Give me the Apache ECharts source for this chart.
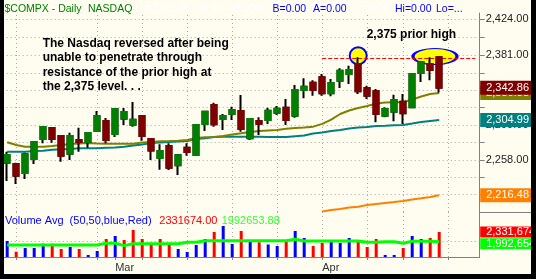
<!DOCTYPE html>
<html><head><meta charset="utf-8">
<script src="https://cdn.jsdelivr.net/npm/echarts@6/dist/echarts.min.js"></script>
<style>
html,body{margin:0;padding:0;background:#000;}
#wrap{position:relative;width:536px;height:279px;overflow:hidden;background:#000;}
#chart{position:absolute;left:0;top:0;width:536px;height:279px;background:#FFFCF0;}
.blk{position:absolute;background:#000;}
</style></head><body>
<div id="wrap">
<div id="chart"></div>
<div class="blk" style="left:0;top:0;width:4px;height:279px"></div>
<div class="blk" style="left:531px;top:0;width:5px;height:279px"></div>
<div class="blk" style="left:0;top:274px;width:536px;height:5px"></div>
</div>
<script>
// ---- data ----
const dates = ['2006-02-10','2006-02-13','2006-02-14','2006-02-15','2006-02-16','2006-02-17','2006-02-21','2006-02-22','2006-02-23','2006-02-24','2006-02-27','2006-02-28',
'2006-03-01','2006-03-02','2006-03-03','2006-03-06','2006-03-07','2006-03-08','2006-03-09','2006-03-10','2006-03-13','2006-03-14','2006-03-15','2006-03-16','2006-03-17','2006-03-20','2006-03-21','2006-03-22','2006-03-23','2006-03-24','2006-03-27','2006-03-28','2006-03-29','2006-03-30','2006-03-31',
'2006-04-03','2006-04-04','2006-04-05','2006-04-06','2006-04-07','2006-04-10','2006-04-11','2006-04-12','2006-04-13','2006-04-17','2006-04-18','2006-04-19','2006-04-20','2006-04-21','2006-04-24','2006-04-25','2006-04-26','2006-04-27'];
const opens  = [2254.8,2253.3,2242.7,2259.1,2282.7,2295.6,2286.2,2265.4,2281.5,2279.2,2292.1,2303.9,2288.6,2306.6,2299.5,2309.8,2282.7,2260.3,2274.4,2251.7,2272.4,2263.8,2300.3,2322.7,2306.2,2312.1,2315.6,2283.5,2303.9,2305.0,2313.6,2319.5,2310.1,2340.4,2349.0,2355.3,2336.5,2351.3,2359.2,2371.0,2342.7,2338.8,2310.1,2314.8,2326.6,2320.0,2360.4,2371.0,2379.0];
const closes = [2263.8,2239.5,2264.7,2279.1,2296.8,2282.7,2263.0,2286.2,2279.2,2289.7,2309.8,2281.5,2318.0,2314.5,2305.4,2286.2,2269.0,2268.5,2248.9,2263.5,2267.4,2299.2,2314.8,2300.0,2309.8,2316.8,2294.5,2306.2,2300.7,2316.0,2318.4,2305.0,2340.4,2344.3,2340.4,2336.5,2348.6,2363.1,2363.9,2338.8,2333.7,2312.1,2318.0,2328.6,2312.9,2359.2,2373.0,2363.9,2342.86];
const lows   = [2233.2,2229.7,2235.6,2253.3,2277.6,2278.3,2256.0,2258.0,2267.7,2272.4,2291.0,2277.6,2285.0,2299.2,2297.2,2280.7,2258.0,2246.5,2246.2,2240.3,2263.0,2262.7,2292.1,2297.2,2293.3,2305.0,2291.3,2281.5,2287.4,2300.3,2310.9,2299.2,2307.8,2330.6,2333.7,2333.7,2332.9,2342.7,2347.4,2335.7,2329.8,2302.3,2308.2,2303.5,2300.3,2318.8,2349.9,2351.7,2337.5];
const highs  = [2267.7,2254.8,2266.6,2280.0,2297.5,2296.5,2287.0,2290.1,2296.0,2290.5,2315.6,2307.4,2319.0,2319.2,2326.2,2310.5,2283.5,2276.4,2277.6,2265.0,2277.6,2300.0,2316.0,2325.4,2312.1,2320.7,2334.5,2307.0,2308.2,2319.5,2321.5,2329.8,2346.3,2354.1,2351.7,2359.2,2353.3,2365.9,2369.0,2378.9,2345.4,2341.5,2320.0,2334.8,2335.7,2360.0,2374.5,2378.9,2380.0];
const ma20  = [2278.8,2275.6,2273.6,2273.6,2273.6,2274.4,2275.6,2276.8,2277.4,2278.0,2277.4,2277.1,2277.1,2277.1,2277.1,2278.6,2279.2,2280.0,2280.3,2280.7,2281.5,2283.9,2284.7,2285.0,2286.2,2288.0,2289.4,2290.9,2292.1,2292.7,2293.3,2294.8,2295.6,2296.2,2297.2,2300.5,2305.5,2312.1,2316.2,2319.2,2321.5,2324.5,2325.7,2325.9,2325.9,2329.2,2332.7,2335.7,2336.88];
const ma50  = [2267.7,2267.7,2267.7,2268.6,2268.9,2270.0,2270.6,2270.9,2271.7,2271.7,2271.7,2272.4,2272.7,2273.6,2275.0,2276.2,2278.0,2278.6,2279.2,2279.7,2280.3,2282.7,2283.5,2285.0,2285.4,2285.4,2285.4,2285.4,2285.4,2285.0,2285.0,2285.0,2285.9,2286.8,2289.2,2290.3,2292.1,2293.3,2295.0,2296.2,2296.8,2298.0,2298.3,2298.8,2299.2,2300.9,2302.7,2303.9,2304.99];
const ma200 = [null,null,null,null,null,null,null,null,null,null,null,null,null,null,null,null,null,null,null,null,null,null,null,null,null,null,null,null,null,null,null,null,null,null,null,
               2197.3,2199.1,2200.3,2202.0,2203.0,2205.0,2206.2,2207.4,2208.5,2209.7,2211.5,2212.9,2214.4,2216.48];
const volumes = [2018000,1643000,1773000,1773000,1923000,1923000,1738000,1808000,1738000,1528000,1668000,2087000,2192000,2052000,2402000,2087000,1878000,2087000,1948000,1738000,1633000,1878000,2087000,2332000,2542000,1913000,2367000,2052000,1972000,1896000,1843000,1982000,2367000,2122000,1843000,1948000,2018000,1948000,2122000,1993000,1808000,2087000,1528000,1528000,1773000,2192000,2087000,2122000,2331674];
const volAvg = [1878000,1878000,1878000,1878000,1878000,1878000,1878000,1878000,1878000,1878000,1878000,1937000,1937000,1855000,1923000,1923000,1923000,1923000,1923000,1923000,1972000,1972000,2028000,2028000,2028000,2028000,2028000,2028000,2028000,2028000,2028000,2028000,2077000,2018000,2018000,2018000,2018000,2018000,2018000,2018000,1972000,1972000,1993000,1993000,1937000,2007000,2007000,2007000,1992653.88];
const priceTicks  = [2424,2402.5,2381,2360.5,2340,2319.5,2299,2278.5,2258,2238,2218];
const priceLabels = [2424,2381,2340,2299,2258,2218];
const volGrid = [2000000];
const priorHigh = 2377.5;
const highlights = [{day:39, price:2380.7}, {day:47, price:2379.8}];
const noteLines = ['The Nasdaq reversed after being','unable to penetrate through','resistance of the prior high at','the 2,375 level. . .'];
const noteHigh = '2,375 prior high';
const MON = ['Jan','Feb','Mar','Apr','May','Jun','Jul','Aug','Sep','Oct','Nov','Dec'];

// ---- derived ----
const FONT = '"Liberation Sans", Arial, sans-serif';
const n = closes.length, last = n - 1;
const fmt2 = v => Number(v).toLocaleString('en-US',{minimumFractionDigits:2,maximumFractionDigits:2});
const fmtInt = v => Math.round(v).toLocaleString('en-US');
const mondays = []; const monthStarts = [];
dates.forEach((d,i)=>{
  if (new Date(d+'T00:00:00Z').getUTCDay()===1) mondays.push(i);
  if (i>0 && d.slice(5,7)!==dates[i-1].slice(5,7)) monthStarts.push(i);
});
const tickSet = new Set(mondays.concat(monthStarts));
const monthSet = new Set(monthStarts);
const volUp = closes.map((c,i)=> i===0 ? c>=opens[i] : c>=closes[i-1]);
const wickData = opens.map((o,i)=>[o, closes[i], lows[i], highs[i]]);
const bodyData = opens.map((o,i)=>[o, closes[i], Math.min(o,closes[i]), Math.max(o,closes[i])]);

const GL = 2.7, GW = 477;
const PMIN = 2196.7, PMAX = 2431, VMIN = 1458000, VMAX = 3031000;
const gridLine = {color:'#A6A6A6', type:[1,3], width:1};
const boxLabel = (txt,bg)=>({formatter: txt, backgroundColor: bg});
const TF = '10.5px '+FONT;

const chart = echarts.init(document.getElementById('chart'), null, {renderer:'canvas'});
const option = {
  animation:false,
  backgroundColor:'transparent',
  textStyle:{fontFamily:FONT},
  grid:[
    {left:GL, top:13, width:GW, height:199, outerBoundsMode:'none', containLabel:false},
    {left:GL, top:212, width:GW, height:45, outerBoundsMode:'none', containLabel:false}
  ],
  xAxis:[
    {type:'category', gridIndex:0, data:dates, boundaryGap:true,
     axisLine:{show:false}, axisTick:{show:false}, axisLabel:{show:false}, splitLine:{show:false}},
    {type:'category', gridIndex:1, data:dates, boundaryGap:true,
     axisLine:{show:true, onZero:false, lineStyle:{color:'#808080'}},
     axisTick:{show:true, alignWithLabel:true, length:3, interval:(i)=>tickSet.has(i), lineStyle:{color:'#808080'}},
     axisLabel:{show:true, interval:(i)=>monthSet.has(i), formatter:(v)=>MON[parseInt(v.slice(5,7),10)-1],
       align:'left', margin:5, color:'#333', fontSize:11, fontFamily:FONT},
     splitLine:{show:false}}
  ],
  yAxis:[
    {type:'value', gridIndex:0, position:'right', min:PMIN, max:PMAX,
     axisLine:{show:true, lineStyle:{color:'#808080'}},
     axisTick:{show:true, length:5, customValues:priceTicks, lineStyle:{color:'#808080'}},
     axisLabel:{show:true, customValues:priceLabels, formatter:(v)=>fmt2(v), margin:6, color:'#222', fontSize:11, fontFamily:FONT},
     splitLine:{show:false}},
    {type:'value', gridIndex:1, position:'right', min:VMIN, max:VMAX,
     axisLine:{show:true, lineStyle:{color:'#808080'}}, axisTick:{show:false}, axisLabel:{show:false}, splitLine:{show:false}}
  ],
  series:[
    {type:'line', xAxisIndex:0, yAxisIndex:0, data:[], silent:true,
     markLine:{z:1, silent:true, symbol:['none','none'], label:{show:false}, lineStyle:gridLine,
       data:[...priceTicks.map(v=>({yAxis:v})), ...mondays.map(i=>({xAxis:dates[i]}))]}},
    {type:'line', xAxisIndex:1, yAxisIndex:1, data:[], silent:true,
     markLine:{z:1, silent:true, symbol:['none','none'], label:{show:false}, lineStyle:gridLine,
       data:[...volGrid.map(v=>({yAxis:v})), ...mondays.map(i=>({xAxis:dates[i]}))]}},
    {name:'MA200', type:'line', xAxisIndex:0, yAxisIndex:0, data:ma200, showSymbol:false, z:2, silent:true,
     lineStyle:{color:'#FF8000', width:2}},
    {name:'MA50', type:'line', xAxisIndex:0, yAxisIndex:0, data:ma50, showSymbol:false, z:2, silent:true,
     lineStyle:{color:'#008080', width:2}},
    {name:'MA20', type:'line', xAxisIndex:0, yAxisIndex:0, data:ma20, showSymbol:false, z:2, silent:true,
     lineStyle:{color:'#808000', width:2}},
    {type:'line', xAxisIndex:0, yAxisIndex:0, data:[], silent:true,
     markPoint:{z:3, silent:true, label:{show:false},
       itemStyle:{color:'#FFFF00', borderColor:'#0000FF', borderWidth:2},
       data:[
         {coord:[dates[highlights[0].day], highlights[0].price], symbol:'circle', symbolSize:[17,17]},
         {coord:[dates[highlights[1].day], highlights[1].price], symbol:'circle', symbolSize:[44,16], symbolOffset:[4.8,0]}
       ]},
     markLine:{z:4, silent:true, symbol:['none','none'], label:{show:false},
       lineStyle:{color:'#FF0000', type:[4,2], width:1},
       data:[[{coord:[dates[35], priorHigh]},{coord:[dates[52], priorHigh]}]]}},
    {type:'candlestick', xAxisIndex:0, yAxisIndex:0, data:wickData, z:5, barWidth:6, silent:true,
     itemStyle:{color:'#000', color0:'#000', borderColor:'#000', borderColor0:'#000', borderWidth:2}},
    {type:'candlestick', xAxisIndex:0, yAxisIndex:0, data:bodyData, z:6, barWidth:6, silent:true,
     itemStyle:{color:'#008000', color0:'#800000', borderColor:'#008000', borderColor0:'#800000', borderWidth:2}},
    {type:'line', xAxisIndex:0, yAxisIndex:0, data:[], silent:true,
     markLine:{z:8, silent:true, symbol:['none','none'],
       lineStyle:{color:'rgba(0,0,0,0)', width:0},
       label:{show:true, position:'end', distance:0.5, color:'#fff', fontSize:11, fontFamily:FONT, padding:[1,8,1,6], lineHeight:12},
       data:[
         {yAxis:ma200[last], label:boxLabel(fmt2(ma200[last]),'#FF8000')},
         {yAxis:ma50[last], label:boxLabel(fmt2(ma50[last]),'#008080')},
         {yAxis:ma20[last], label:boxLabel(fmt2(ma20[last]),'#808000')},
         {yAxis:closes[last], label:boxLabel(fmt2(closes[last]),'#800000')}
       ]}},
    {name:'Volume', type:'bar', xAxisIndex:1, yAxisIndex:1, data:volumes, barWidth:3, z:2, silent:true,
     itemStyle:{color:(p)=> volUp[p.dataIndex] ? '#0000FF' : '#FF0000'}},
    {name:'VolAvg', type:'line', xAxisIndex:1, yAxisIndex:1, data:volAvg, showSymbol:false, z:3, silent:true,
     lineStyle:{color:'#00FF00', width:3}},
    {type:'line', xAxisIndex:1, yAxisIndex:1, data:[], silent:true,
     markLine:{z:8, silent:true, symbol:['none','none'],
       lineStyle:{color:'rgba(0,0,0,0)', width:0},
       label:{show:true, position:'end', distance:0.5, color:'#fff', fontSize:11, fontFamily:FONT, padding:[0,8,0,6], lineHeight:11},
       data:[
         {yAxis:volumes[last], label:boxLabel(fmtInt(volumes[last]),'#FF0000')},
         {yAxis:volAvg[last], label:Object.assign(boxLabel(fmtInt(volAvg[last]),'#00FF00'),{offset:[0,2]})}
       ]}}
  ],
  graphic:[
    {type:'text', x:4.5, y:9.5, z:10, style:{text:'$COMPX - Daily', font:TF, fill:'#008000', verticalAlign:'middle'}},
    {type:'text', x:88, y:9.5, z:10, style:{text:'NASDAQ', font:TF, fill:'#008000', verticalAlign:'middle'}},
    {type:'text', x:140, y:9.5, z:10, style:{text:'L='+closes[last].toFixed(2)+'  +0.00  +0.00%', font:TF, fill:'#FFFFFF', verticalAlign:'middle'}},
    {type:'text', x:272.5, y:9.5, z:10, style:{text:'B=0.00', font:TF, fill:'#0000FF', verticalAlign:'middle'}},
    {type:'text', x:313, y:9.5, z:10, style:{text:'A=0.00', font:TF, fill:'#0000FF', verticalAlign:'middle'}},
    {type:'text', x:354, y:9.5, z:10, style:{text:'O=0.00', font:TF, fill:'#FFFFFF', verticalAlign:'middle'}},
    {type:'text', x:395, y:9.5, z:10, style:{text:'Hi=0.00', font:TF, fill:'#0000FF', verticalAlign:'middle'}},
    {type:'text', x:436, y:9.5, z:10, style:{text:'Lo=...', font:TF, fill:'#0000FF', verticalAlign:'middle'}},
    {type:'text', x:42.7, y:36.2, z:10, style:{text:noteLines.join('\n'), font:'bold 12px '+FONT, fill:'#000', verticalAlign:'top', lineHeight:14.4}},
    {type:'text', x:366.7, y:34.3, z:10, style:{text:noteHigh, font:'bold 12px '+FONT, fill:'#000', verticalAlign:'middle'}},
    {type:'text', x:5, y:220.7, z:10, style:{text:'Volume Avg  (50,50,blue,Red)', font:'11px '+FONT, fill:'#0000FF', verticalAlign:'middle'}},
    {type:'text', x:159.3, y:220.7, z:10, style:{text:volumes[last].toFixed(2), font:'11px '+FONT, fill:'#FF0000', verticalAlign:'middle'}},
    {type:'text', x:221.7, y:220.7, z:10, style:{text:volAvg[last].toFixed(2), font:'11px '+FONT, fill:'#33FF33', verticalAlign:'middle'}},
    {type:'line', z:10, shape:{x1:480, y1:212.5, x2:531, y2:212.5}, style:{stroke:'#808080', lineWidth:1}}
  ]
};
chart.setOption(option);
</script>
</body></html>
